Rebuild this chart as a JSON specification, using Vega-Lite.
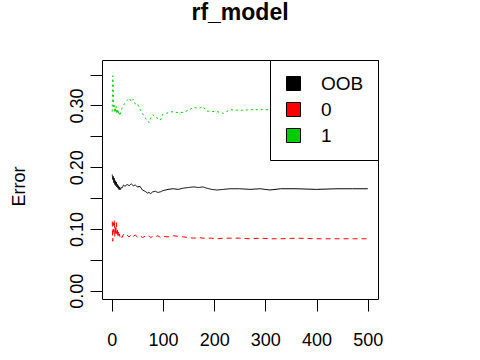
{
  "$schema": "https://vega.github.io/schema/vega-lite/v6.json",
  "width": 276,
  "height": 239,
  "autosize": "none",
  "padding": {"left": 102, "top": 60, "right": 102, "bottom": 61},
  "background": "white",
  "title": {"text": "rf_model", "font": "Liberation Sans", "fontSize": 23, "fontWeight": "bold", "color": "black", "anchor": "middle", "frame": "group", "offset": 35},
  "data": {"values": [
    {"trees": 1, "OOB": 0.188, "0": 0.112, "1": 0.290},
    {"trees": 2, "OOB": 0.180, "0": 0.080, "1": 0.348},
    {"trees": 3, "OOB": 0.185, "0": 0.110, "1": 0.330},
    {"trees": 4, "OOB": 0.175, "0": 0.095, "1": 0.295},
    {"trees": 5, "OOB": 0.182, "0": 0.115, "1": 0.300},
    {"trees": 6, "OOB": 0.172, "0": 0.088, "1": 0.288},
    {"trees": 7, "OOB": 0.178, "0": 0.105, "1": 0.296},
    {"trees": 8, "OOB": 0.170, "0": 0.090, "1": 0.291},
    {"trees": 9, "OOB": 0.176, "0": 0.110, "1": 0.298},
    {"trees": 10, "OOB": 0.168, "0": 0.092, "1": 0.286},
    {"trees": 11, "OOB": 0.172, "0": 0.100, "1": 0.294},
    {"trees": 12, "OOB": 0.166, "0": 0.086, "1": 0.289},
    {"trees": 13, "OOB": 0.170, "0": 0.095, "1": 0.292},
    {"trees": 14, "OOB": 0.164, "0": 0.088, "1": 0.284},
    {"trees": 15, "OOB": 0.168, "0": 0.092, "1": 0.287},
    {"trees": 16, "OOB": 0.163, "0": 0.087, "1": 0.283},
    {"trees": 18, "OOB": 0.167, "0": 0.090, "1": 0.290},
    {"trees": 20, "OOB": 0.166, "0": 0.086, "1": 0.296},
    {"trees": 23, "OOB": 0.171, "0": 0.091, "1": 0.300},
    {"trees": 26, "OOB": 0.169, "0": 0.088, "1": 0.304},
    {"trees": 30, "OOB": 0.172, "0": 0.090, "1": 0.308},
    {"trees": 34, "OOB": 0.170, "0": 0.087, "1": 0.312},
    {"trees": 38, "OOB": 0.173, "0": 0.091, "1": 0.306},
    {"trees": 42, "OOB": 0.170, "0": 0.088, "1": 0.310},
    {"trees": 46, "OOB": 0.171, "0": 0.090, "1": 0.302},
    {"trees": 50, "OOB": 0.168, "0": 0.087, "1": 0.303},
    {"trees": 55, "OOB": 0.169, "0": 0.089, "1": 0.294},
    {"trees": 60, "OOB": 0.163, "0": 0.086, "1": 0.287},
    {"trees": 65, "OOB": 0.161, "0": 0.088, "1": 0.280},
    {"trees": 70, "OOB": 0.158, "0": 0.087, "1": 0.276},
    {"trees": 73, "OOB": 0.159, "0": 0.089, "1": 0.272},
    {"trees": 76, "OOB": 0.157, "0": 0.086, "1": 0.279},
    {"trees": 80, "OOB": 0.160, "0": 0.088, "1": 0.285},
    {"trees": 85, "OOB": 0.161, "0": 0.087, "1": 0.281},
    {"trees": 90, "OOB": 0.159, "0": 0.089, "1": 0.279},
    {"trees": 95, "OOB": 0.160, "0": 0.086, "1": 0.276},
    {"trees": 100, "OOB": 0.162, "0": 0.088, "1": 0.286},
    {"trees": 110, "OOB": 0.164, "0": 0.087, "1": 0.288},
    {"trees": 120, "OOB": 0.165, "0": 0.089, "1": 0.290},
    {"trees": 130, "OOB": 0.164, "0": 0.088, "1": 0.288},
    {"trees": 140, "OOB": 0.166, "0": 0.087, "1": 0.289},
    {"trees": 150, "OOB": 0.167, "0": 0.086, "1": 0.292},
    {"trees": 160, "OOB": 0.168, "0": 0.085, "1": 0.297},
    {"trees": 170, "OOB": 0.167, "0": 0.086, "1": 0.295},
    {"trees": 178, "OOB": 0.168, "0": 0.085, "1": 0.298},
    {"trees": 185, "OOB": 0.166, "0": 0.085, "1": 0.291},
    {"trees": 195, "OOB": 0.164, "0": 0.085, "1": 0.290},
    {"trees": 205, "OOB": 0.163, "0": 0.084, "1": 0.290},
    {"trees": 218, "OOB": 0.164, "0": 0.085, "1": 0.287},
    {"trees": 231, "OOB": 0.165, "0": 0.085, "1": 0.293},
    {"trees": 250, "OOB": 0.165, "0": 0.085, "1": 0.292},
    {"trees": 270, "OOB": 0.164, "0": 0.084, "1": 0.293},
    {"trees": 290, "OOB": 0.165, "0": 0.085, "1": 0.293},
    {"trees": 309, "OOB": 0.163, "0": 0.084, "1": 0.293},
    {"trees": 330, "OOB": 0.165, "0": 0.084, "1": 0.293},
    {"trees": 360, "OOB": 0.165, "0": 0.085, "1": 0.293},
    {"trees": 400, "OOB": 0.164, "0": 0.084, "1": 0.293},
    {"trees": 440, "OOB": 0.165, "0": 0.084, "1": 0.293},
    {"trees": 470, "OOB": 0.165, "0": 0.084, "1": 0.293},
    {"trees": 500, "OOB": 0.165, "0": 0.084, "1": 0.294}
  ]},
  "transform": [{"fold": ["OOB", "0", "1"], "as": ["series", "error"]}],
  "encoding": {
    "x": {"field": "trees", "type": "quantitative", "scale": {"domain": [-19, 520], "nice": false, "zero": false},
      "axis": {"values": [0, 100, 200, 300, 400, 500], "title": null, "labelBaseline": "alphabetic", "labelPadding": 34, "labelFlush": false, "labelOverlap": false}},
    "y": {"field": "error", "type": "quantitative", "scale": {"domain": [-0.0135, 0.3735], "nice": false, "zero": false},
      "axis": {"values": [0, 0.05, 0.1, 0.15, 0.2, 0.25, 0.3, 0.35], "labelExpr": "round(datum.value*100) % 10 == 0 ? format(datum.value, '.2f') : ''",
        "labelAngle": -90, "labelAlign": "center", "labelBaseline": "alphabetic", "labelPadding": 8, "labelOverlap": false, "labelFlush": false,
        "title": "Error", "titleAngle": -90, "titleAlign": "center", "titleBaseline": "alphabetic", "titleX": -78, "titleY": 126,
        "titleFont": "Liberation Sans", "titleFontSize": 18, "titleFontWeight": "normal", "titleColor": "black"}}
  },
  "layer": [
    {
      "mark": {"type": "line", "strokeWidth": 1, "interpolate": "linear"},
      "encoding": {
        "stroke": {"field": "series", "type": "nominal", "scale": {"range": ["#FF0000", "#00CD00", "#000000"]}, "legend": null},
        "strokeDash": {"field": "series", "type": "nominal", "scale": {"range": [[5, 4], [2, 3], [1, 0]]}, "legend": null},
        "order": {"field": "trees", "type": "quantitative"}
      }
    },
    {
      "transform": [{"filter": "datum.trees == 500"}],
      "mark": {"type": "square", "filled": true, "opacity": 0},
      "encoding": {
        "fill": {"field": "series", "type": "nominal", "scale": {"domain": ["OOB", "0", "1"], "range": ["#000000", "#FF0000", "#00CD00"]},
          "legend": {"title": null, "orient": "none", "legendX": 168, "legendY": 0, "padding": 14, "strokeColor": "black", "fillColor": "white",
            "symbolType": "square", "symbolSize": 196, "symbolStrokeColor": "black", "symbolStrokeWidth": 1, "symbolOpacity": 1,
            "labelFont": "Liberation Sans", "labelFontSize": 19, "labelColor": "black", "labelOffset": 18, "rowPadding": 6, "labelLimit": 200}}
      }
    }
  ],
  "config": {
    "view": {"stroke": "black", "strokeWidth": 1},
    "axis": {"grid": false, "domain": false, "ticks": true, "tickColor": "black", "tickSize": 12, "tickWidth": 1,
      "labelFont": "Liberation Sans", "labelFontSize": 18, "labelColor": "black"}
  }
}
